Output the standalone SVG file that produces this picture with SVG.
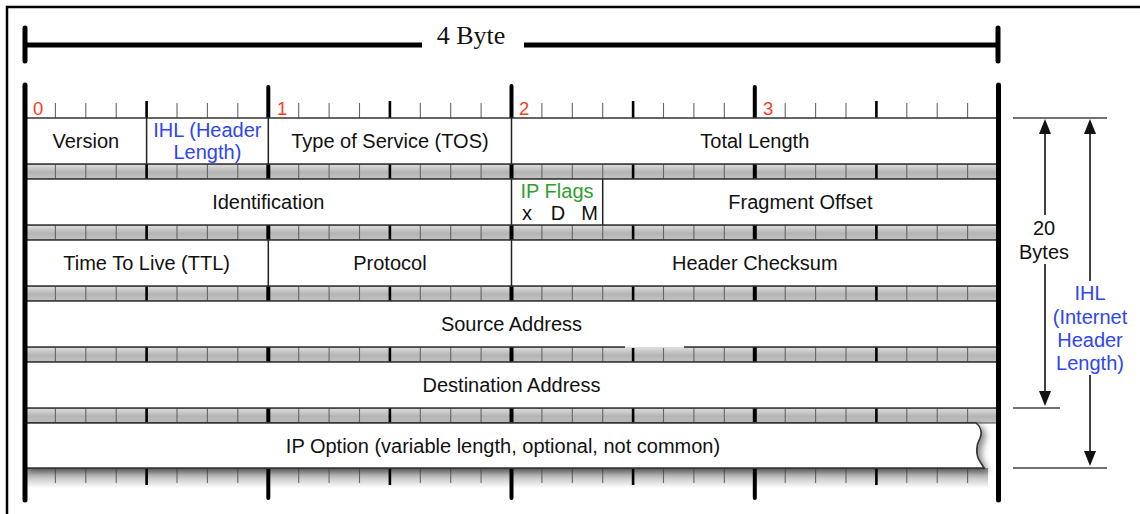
<svg xmlns="http://www.w3.org/2000/svg" width="1140" height="514" viewBox="0 0 1140 514">
<defs>
<style>
.t{font-family:"Liberation Sans",Arial,Helvetica,sans-serif;font-size:20px;fill:#111;text-anchor:middle}
.b{fill:#2f45f0}
.g{fill:#2ea02e}
.r{font-family:"Liberation Sans",Arial,sans-serif;font-size:18.5px;fill:#ff3a1c}
.row{fill:#fff;stroke:#333;stroke-width:1.5}
.div{stroke:#222;stroke-width:1.5}
.band{fill:url(#bandGrad);stroke:#444;stroke-width:1}
.bit{stroke:#666;stroke-width:1.1;fill:none}
.nib{stroke:#000;stroke-width:2.6;fill:none}
.byte{stroke:#000;stroke-width:4;stroke-linecap:round;fill:none}
.edge{stroke:#000;stroke-width:5;stroke-linecap:round;fill:none}
.dim{stroke:#444;stroke-width:1.5}
.arr{stroke:#111;stroke-width:1.6}
</style>
<linearGradient id="bandGrad" x1="0" y1="0" x2="0" y2="1">
<stop offset="0" stop-color="#e0e0e0"/>
<stop offset="0.55" stop-color="#b4b4b4"/>
<stop offset="1" stop-color="#c4c4c4"/>
</linearGradient>
<linearGradient id="shadowGrad" x1="0" y1="0" x2="0" y2="1">
<stop offset="0" stop-color="#929292"/>
<stop offset="1" stop-color="#ffffff"/>
</linearGradient>
<filter id="sh" x="-5%" y="-20%" width="110%" height="160%">
<feDropShadow dx="4" dy="3" stdDeviation="3" flood-color="#000" flood-opacity="0.45"/>
</filter>
</defs>

<!-- frame -->
<g id="frame">
<path d="M7,514 V7 H1140" fill="none" stroke="#000" stroke-width="2.5"/>
</g>

<!-- 4 Byte measure -->
<g id="width-measure">
<path d="M25,45 H422 M524,45 H998" stroke="#000" stroke-width="5"/>
<path d="M25,28 V61 M998,28 V61" class="edge"/>
<text x="471" y="43.5" style="font-family:'Liberation Serif','Times New Roman',serif;font-size:26px;fill:#111;text-anchor:middle">4 Byte</text>
</g>

<!-- grey bands -->
<g id="bands">
<rect class="band" x="25" y="164" width="973" height="15"/>
<rect class="band" x="25" y="225" width="973" height="15"/>
<rect class="band" x="25" y="286" width="973" height="15"/>
<rect class="band" x="25" y="347" width="973" height="15"/>
<rect class="band" x="25" y="408" width="973" height="15"/>
<rect x="25" y="468" width="963" height="20" fill="url(#shadowGrad)"/>
</g>

<!-- bit ticks -->
<g id="ticks">
<path class="bit" d="M55.4,103V483 M85.8,103V483 M116.2,103V483 M177,103V483 M207.4,103V483 M237.8,103V483 M298.7,103V483 M329.1,103V483 M359.5,103V483 M420.3,103V483 M450.7,103V483 M481.1,103V483 M541.9,103V483 M572.3,103V483 M602.7,103V483 M663.5,103V483 M693.9,103V483 M724.3,103V483 M785.2,103V483 M815.6,103V483 M846,103V483 M906.8,103V483 M937.2,103V483 M967.6,103V483"/>
<path class="nib" d="M146.6,101V485 M389.9,101V485 M633.1,101V485 M876.4,101V485"/>
<path class="byte" d="M268.3,87V498 M511.5,86V498 M754.8,87V498"/>
<text class="r" x="33" y="114.5">0</text>
<text class="r" x="277" y="114.5">1</text>
<text class="r" x="519" y="114.5">2</text>
<text class="r" x="763" y="114.5">3</text>
</g>

<!-- rows -->
<g id="row1">
<rect class="row" x="25" y="118" width="973" height="46"/>
<path class="div" d="M146.6,118V164 M268.3,118V164 M511.5,118V164"/>
<text class="t" x="85.8" y="148">Version</text>
<text class="t b" x="207.4" y="136.5">IHL (Header</text>
<text class="t b" x="207.4" y="158.5">Length)</text>
<text class="t" x="389.9" y="148">Type of Service (TOS)</text>
<text class="t" x="754.8" y="148">Total Length</text>
</g>
<g id="row2">
<rect class="row" x="25" y="179" width="973" height="46"/>
<path class="div" d="M511.5,179V225 M602.7,179V225"/>
<text class="t" x="268.3" y="209">Identification</text>
<text class="t g" x="557" y="197.5">IP Flags</text>
<text class="t" x="527" y="220">x</text>
<text class="t" x="558" y="220">D</text>
<text class="t" x="589.5" y="220">M</text>
<text class="t" x="800.4" y="209">Fragment Offset</text>
</g>
<g id="row3">
<rect class="row" x="25" y="240" width="973" height="46"/>
<path class="div" d="M268.3,240V286 M511.5,240V286"/>
<text class="t" x="146.6" y="270">Time To Live (TTL)</text>
<text class="t" x="389.9" y="270">Protocol</text>
<text class="t" x="754.8" y="270">Header Checksum</text>
</g>
<g id="row4">
<rect class="row" x="25" y="301" width="973" height="46"/>
<text class="t" x="511.5" y="331">Source Address</text>
<rect x="625" y="345.8" width="59" height="2" fill="#fff"/>
</g>
<g id="row5">
<rect class="row" x="25" y="362" width="973" height="46"/>
<text class="t" x="511.5" y="392">Destination Address</text>
</g>
<g id="row6">
<path class="row" filter="url(#sh)" d="M25,423 L976,423 C981,427 982,433 980,438 C976,445 976,452 978,458 C980,462 982,465 984,468 L25,468 Z"/>
<path class="row" d="M25,423 L976,423 C981,427 982,433 980,438 C976,445 976,452 978,458 C980,462 982,465 984,468 L25,468 Z"/>
<text class="t" x="503" y="452.5">IP Option (variable length, optional, not common)</text>
</g>

<!-- outer edges -->
<g id="edges">
<path class="edge" d="M25,85V500 M998.5,85V500"/>
</g>

<!-- connectors / dimensions -->
<g id="connectors">
<path class="dim" d="M1013,118H1107 M1013,408H1060 M1013,468H1107"/>
<path class="arr" d="M1045,130V215 M1045,264V395"/>
<polygon points="1045,119 1039,134 1051,134" fill="#111"/>
<polygon points="1045,406 1039,391 1051,391" fill="#111"/>
<path class="arr" d="M1090,130V281 M1090,375V455"/>
<polygon points="1090,119 1084,134 1096,134" fill="#111"/>
<polygon points="1090,466 1084,451 1096,451" fill="#111"/>
</g>

<g id="size-labels">
<text class="t" x="1044" y="235">20</text>
<text class="t" x="1044" y="259">Bytes</text>
<text class="t b" x="1090" y="300">IHL</text>
<text class="t b" x="1090" y="323.5">(Internet</text>
<text class="t b" x="1090" y="347">Header</text>
<text class="t b" x="1090" y="370">Length)</text>
</g>
</svg>
